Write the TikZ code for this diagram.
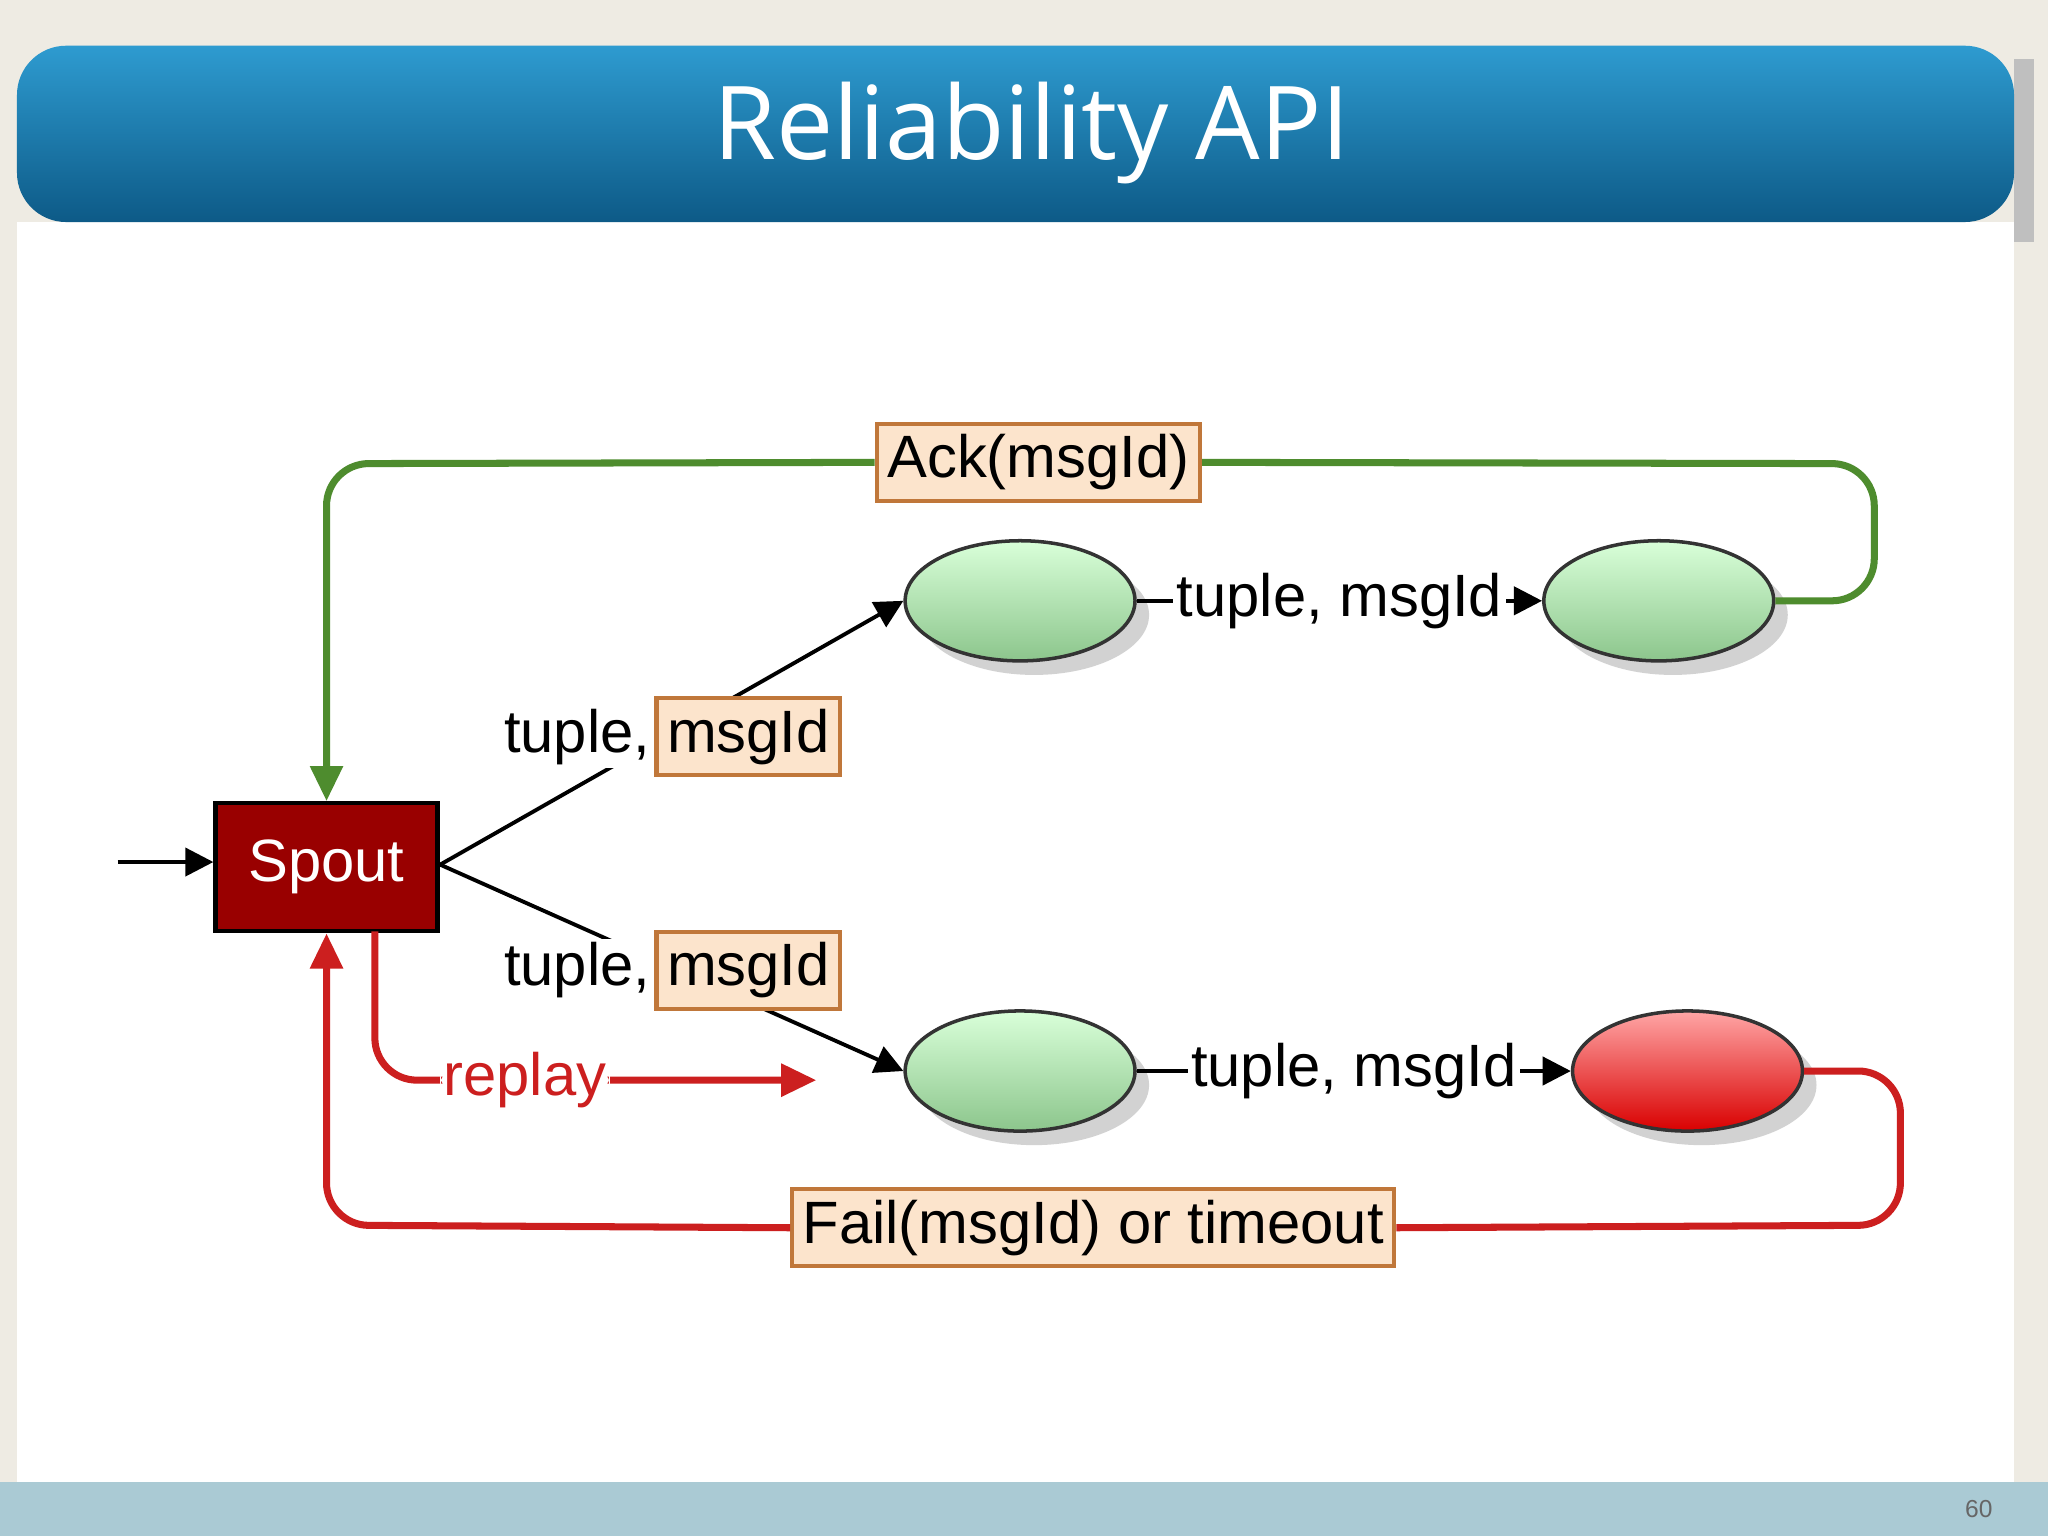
\documentclass[tikz,border=0pt]{standalone}
\usepackage{fontspec}
\setmainfont{Liberation Sans}
\newfontfamily\titlefont{Open Sans}
\usetikzlibrary{shapes.geometric,arrows.meta,shadows}
\definecolor{bgbeige}{HTML}{EEEBE3}
\definecolor{hdtop}{HTML}{2E9BD0}
\definecolor{hdbot}{HTML}{0D5A87}
\definecolor{footblue}{HTML}{AACAD4}
\definecolor{spoutred}{HTML}{990000}
\definecolor{ackgreen}{HTML}{4E8C2E}
\definecolor{failred}{HTML}{CC1F1F}
\definecolor{boxfill}{HTML}{FCE4CC}
\definecolor{boxline}{HTML}{C0773A}
\newlength{\pxu}
\setlength{\pxu}{0.013061cm}
\tikzset{
  lbl/.style={font=\fontsize{17}{20}\selectfont, inner sep=1pt},
  tag/.style={lbl, draw=boxline, fill=boxfill, line width=1.2pt, inner sep=3pt},
  bolt/.style={ellipse, draw=black!80, line width=1pt, minimum width=176\pxu, minimum height=92\pxu,
    drop shadow={shadow xshift=4pt, shadow yshift=-4pt, fill=black!35}},
  arr/.style={line width=1.1pt, -{Triangle[length=8pt,width=8pt]}},
}
\begin{document}
\begin{tikzpicture}[x=0.013061cm,y=-0.013061cm]
\useasboundingbox (0,0) rectangle (1568,1176);
\fill[bgbeige] (0,0) rectangle (1568,1176);
\fill[black!25] (1542,45) rectangle (1557,185);
\fill[white] (13,170) rectangle (1542,1135);
\shade[top color=hdtop, bottom color=hdbot, rounded corners=14pt] (13,170) -- (13,35) -- (1542,35) -- (1542,170) -- cycle;
\fill[footblue] (0,1135) rectangle (1568,1176);
\node[text=white, font=\titlefont\fontsize{29}{34}\selectfont] (title) at (790,102) {Reliability API};
\node[text=black!60, font=\fontsize{7}{8}\selectfont] (page) at (1515,1155) {60};

% bolts
\node[bolt, top color=green!15!white, bottom color=green!50!black!45] (b1) at (781,460) {};
\node[bolt, top color=green!15!white, bottom color=green!50!black!45] (b2) at (1270,460) {};
\node[bolt, top color=green!15!white, bottom color=green!50!black!45] (b3) at (781,820) {};
\node[bolt, top color=red!35!white, bottom color=red!85!black] (b4) at (1292,820) {};

% spout
\node[draw=black, line width=1.2pt, fill=spoutred, text=white, minimum width=170\pxu, minimum height=98\pxu,
  font=\fontsize{17}{20}\selectfont] (spout) at (250,664) {Spout};
\coordinate (in) at (90,660);
\draw[arr] (in) -- (spout.west |- in);

% tuple edges
\coordinate (fork) at (337,662);
\draw[arr] (fork) -- (b1.west);
\draw[arr] (fork) -- (b3.west);
\node[tag] (m1) at (573,564) {msgId};
\node[lbl, fill=white, anchor=east] (t1) at (m1.west) {tuple,};
\node[tag] (m2) at (573,743) {msgId};
\node[lbl, fill=white, anchor=east] (t2) at (m2.west) {tuple,};

\draw[arr] (b1.east) -- node[lbl, fill=white] (t3) {tuple, msgId} (b2.west);
\draw[arr] (b3.east) -- node[lbl, fill=white] (t4) {tuple, msgId} (b4.west);

% ack loop
\node[tag] (ack) at (795,354) {Ack(msgId)};
\draw[ackgreen, line width=2pt, rounded corners=12pt]
  (b2.east) -- (1435,460) -- (1435,355) -- (ack.east);
\draw[ackgreen, line width=2pt, rounded corners=12pt, -{Triangle[length=10pt,width=9pt]}]
  (ack.west) -- (250,355) -- (spout.north);

% fail loop
\node[tag] (fail) at (837,940) {Fail(msgId) or timeout};
\draw[failred, line width=2pt, rounded corners=12pt]
  (b4.east) -- (1455,820) -- (1455,938) -- (fail.east);
\draw[failred, line width=2pt, rounded corners=12pt, -{Triangle[length=10pt,width=9pt]}]
  (fail.west) -- (250,938) -- (spout.south);

% replay
\coordinate (rp) at (625,827);
\draw[failred, line width=2pt, rounded corners=12pt, -{Triangle[length=10pt,width=9pt]}]
  (287,713) -- (287,827) -- node[lbl, fill=white, pos=0.34] (replay) {replay} (rp);
\end{tikzpicture}
\end{document}
